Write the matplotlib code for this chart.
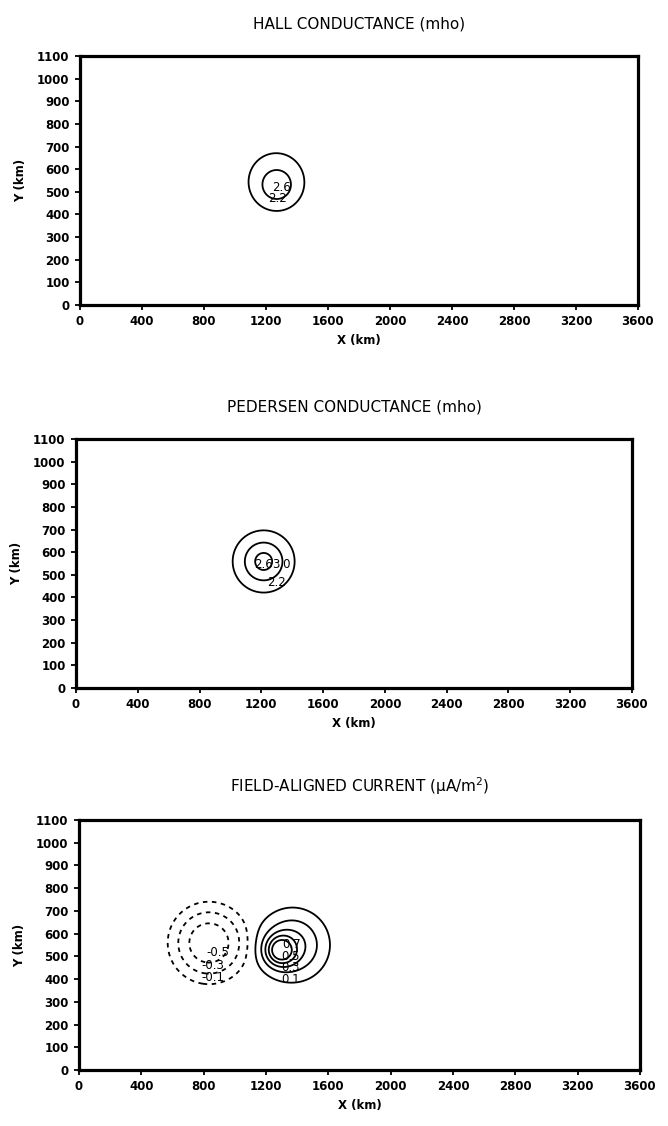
import numpy as np
import matplotlib
matplotlib.use("Agg")
import matplotlib.pyplot as plt

# ---------------- data ----------------
titles = ["HALL CONDUCTANCE (mho)",
          "PEDERSEN CONDUCTANCE (mho)",
          "FIELD-ALIGNED CURRENT (\u03bcA/m$^2$)"]
x_ticks = [0, 400, 800, 1200, 1600, 2000, 2400, 2800, 3200, 3600]
y_ticks = [0, 100, 200, 300, 400, 500, 600, 700, 800, 900, 1000, 1100]
x_label = "X (km)"
y_label = "Y (km)"

hall_levels = [2.2, 2.6]
pedersen_levels = [2.2, 2.6, 3.0]
fac_neg_levels = [-0.5, -0.3, -0.1]
fac_pos_levels = [0.1, 0.3, 0.5, 0.7, 0.9]

# bump parameters: peak, centre x, centre y, e-fold width (km), shape exponent
hall_background = 2.0
hall_broad_bump = [0.35, 1265, 560, 200, 2.0]
hall_narrow_bump = [0.65, 1270, 525, 112, 2.0]
pedersen_background = 2.0
pedersen_bump = [1.14, 1215, 559, 152, 2.0]
fac_neg_bump = [-0.582, 834, 559, 223, 3.3]
fac_broad_bump = [0.53, 1370, 550, 196, 2.5]
fac_narrow_bump = [0.74, 1290, 525, 92, 2.0]
y_stretch = 1.46

# contour label positions (km), keyed by level
hall_label_pos = {2.6: (1303, 520), 2.2: (1271, 470)}
pedersen_label_pos = {2.6: (1215, 545), 3.0: (1330, 545), 2.2: (1295, 465)}
fac_neg_label_pos = {-0.5: (892, 515), -0.3: (860, 460), -0.1: (860, 405)}
fac_pos_label_pos = {0.7: (1367, 550), 0.5: (1360, 500), 0.3: (1360, 450), 0.1: (1360, 400)}

# ---------------- grid / fields ----------------
xg = np.linspace(0, 3600, 721)
yg = np.linspace(0, 1100, 221)
X, Y = np.meshgrid(xg, yg)


def bump(p):
    amp, cx, cy, w, shape = p
    r = np.sqrt((X - cx) ** 2 + (y_stretch * (Y - cy)) ** 2)
    return amp * np.exp(-(r / w) ** shape)


hall = hall_background + bump(hall_broad_bump) + bump(hall_narrow_bump)
pedersen = pedersen_background + bump(pedersen_bump)
fac = bump(fac_neg_bump) + bump(fac_broad_bump) + bump(fac_narrow_bump)

# ---------------- figure ----------------
plt.rcParams['font.family'] = ['DejaVu Sans']
fig = plt.figure(figsize=(6.68, 11.26), dpi=100)

W, H = 668.0, 1126.0
boxes = [(80, 56, 638, 305), (76, 439, 632, 688), (79, 820, 640, 1070)]
axes = []
for (l, t, r, b) in boxes:
    ax = fig.add_axes([l / W, 1 - b / H, (r - l) / W, (b - t) / H])
    axes.append(ax)

lw_c = 1.3
for i, ax in enumerate(axes):
    ax.set_xlim(0, 3600)
    ax.set_ylim(0, 1100)
    ax.set_xticks(x_ticks)
    ax.set_yticks(y_ticks)
    ax.set_xticklabels([str(v) for v in x_ticks], fontweight='bold', fontsize=8.5)
    ax.set_yticklabels([str(v) for v in y_ticks], fontweight='bold', fontsize=8.5)
    ax.tick_params(direction='out', length=3.5, width=1.3, pad=4, top=False, right=False)
    for s in ax.spines.values():
        s.set_linewidth(2.3)
        s.set_color('black')
    ax.set_xlabel(x_label, fontweight='bold', fontsize=8.5, labelpad=4)
    ax.set_ylabel(y_label, fontweight='bold', fontsize=8.5, labelpad=7)
    ax.set_title(titles[i], fontsize=11, pad=20)


def draw_levels(ax, field, levels, label_pos, style):
    for lev in levels:
        cs = ax.contour(X, Y, field, levels=[lev], colors='black',
                        linewidths=lw_c, linestyles=[style])
        if lev in label_pos:
            pos = label_pos[lev]
            texts = ax.clabel(cs, fmt='%.1f', fontsize=8.5, inline=False, manual=[pos])
            for t in texts:
                t.set_rotation(0)
                t.set_position(pos)
                t.set_ha('center')
                t.set_va('center')


draw_levels(axes[0], hall, hall_levels, hall_label_pos, 'solid')
draw_levels(axes[1], pedersen, pedersen_levels, pedersen_label_pos, 'solid')
draw_levels(axes[2], fac, fac_neg_levels, fac_neg_label_pos, (0, (2.5, 2.5)))
draw_levels(axes[2], fac, fac_pos_levels, fac_pos_label_pos, 'solid')

fig.savefig("out.png", dpi=100)
